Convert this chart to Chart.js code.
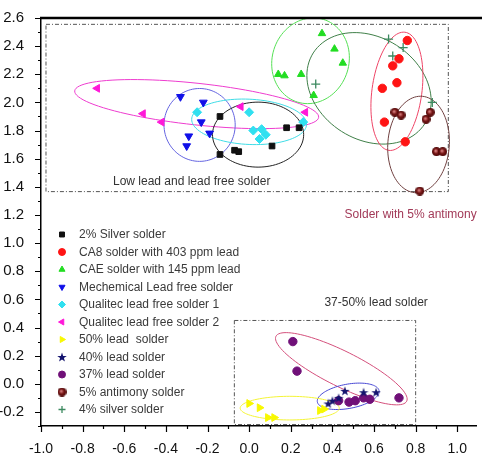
<!DOCTYPE html>
<html>
<head>
<meta charset="utf-8">
<script src="https://cdn.jsdelivr.net/npm/chart.js@4.4.1/dist/chart.umd.min.js"></script>
<style>
  html, body { margin: 0; padding: 0; background: #fff; }
  canvas { display: block; }
</style>
</head>
<body>
<canvas id="chart" width="482" height="458"></canvas>
<script>
// values, [x, y]
const silver2 = [[-0.14, 1.90], [-0.14, 1.63], [-0.07, 1.66], [-0.05, 1.65], [0.11, 1.69], [0.18, 1.82], [0.24, 1.82]];
const ca8 = [[0.76, 2.44], [0.72, 2.31], [0.69, 2.26], [0.64, 2.10], [0.71, 2.14], [0.65, 1.86], [0.75, 1.72]];
const cae = [[0.35, 2.49], [0.41, 2.38], [0.45, 2.28], [0.14, 2.20], [0.17, 2.19], [0.25, 2.20], [0.31, 2.05]];
const mechemical = [[-0.33, 2.04], [-0.22, 2.00], [-0.23, 1.86], [-0.19, 1.78], [-0.29, 1.76], [-0.30, 1.69]];
const qualitec1 = [[-0.25, 1.93], [0.0, 1.93], [0.02, 1.80], [0.06, 1.81], [0.05, 1.74], [0.08, 1.77], [0.26, 1.86]];
const qualitec2 = [[-0.73, 2.10], [-0.51, 1.92], [-0.42, 1.86], [-0.04, 1.97], [0.27, 1.93]];
const lead50 = [[0.00, -0.14], [0.05, -0.17], [0.09, -0.24], [0.12, -0.24], [0.34, -0.19], [0.36, -0.18]];
const lead40 = [[0.46, -0.05], [0.43, -0.10], [0.55, -0.06], [0.61, -0.06], [0.40, -0.12], [0.38, -0.14]];
const lead37 = [[0.21, 0.30], [0.23, 0.09], [0.72, -0.10], [0.43, -0.12], [0.48, -0.13], [0.51, -0.12], [0.55, -0.10], [0.58, -0.11]];
const antimony5 = [[0.70, 1.93], [0.73, 1.91], [0.87, 1.93], [0.85, 1.88], [0.90, 1.65], [0.93, 1.65], [0.82, 1.37]];
const silver4 = [[0.32, 2.13], [0.67, 2.45], [0.69, 2.33], [0.74, 2.39], [0.88, 2.00]];

const seriesNames = [
    '2% Silver solder',
    'CA8 solder with 403 ppm lead',
    'CAE solder with 145 ppm lead',
    'Mechemical Lead free solder',
    'Qualitec lead free solder 1',
    'Qualitec lead free solder 2',
    '50% lead  solder',
    '40% lead solder',
    '37% lead solder',
    '5% antimony solder',
    '4% silver solder',
];

const xRange = [-1.0, 1.09];
const yRange = [-0.3, 2.6];

// grouping ellipses: centre plus two half-axis vectors, data units
const ellipses = [
    { cx: -0.252, cy: 1.988, ax: 0.586, ay: -0.094, bx: -0.011, by: -0.147, color: '#ee3ccf' },
    { cx: -0.238, cy: 1.840, ax: 0.171, ay: 0, bx: 0, by: 0.259, color: '#6464e0' },
    { cx: 0.0, cy: 1.862, ax: 0.276, ay: -0.017, bx: 0, by: 0.161, color: '#3fdce6' },
    { cx: 0.043, cy: 1.771, ax: 0.219, ay: 0, bx: 0, by: 0.231, color: '#222222' },
    { cx: 0.295, cy: 2.296, ax: 0.062, ay: 0.294, bx: 0.176, by: -0.080, color: '#55e055' },
    { cx: 0.576, cy: 2.100, ax: 0.276, ay: -0.231, bx: -0.114, by: -0.322, color: '#3f7f48' },
    { cx: 0.710, cy: 2.079, ax: 0.038, ay: 0.420, bx: 0.119, by: -0.021, color: '#ee4466' },
    { cx: 0.814, cy: 1.701, ax: 0.010, ay: 0.343, bx: 0.148, by: 0, color: '#704040' },
    { cx: 0.443, cy: 0.107, ax: 0.314, ay: -0.231, bx: -0.038, by: -0.112, color: '#d4507c' },
    { cx: 0.476, cy: -0.089, ax: 0.148, ay: 0.042, bx: 0.014, by: -0.084, color: '#4848d4' },
    { cx: 0.195, cy: -0.173, ax: 0.238, ay: 0, bx: 0, by: 0.084, color: '#f4f436' },
];

const boxes = [
    { x0: -0.976, x1: 0.957, y0: 1.366, y1: 2.555 },
    { x0: -0.071, x1: 0.80, y0: -0.29, y1: 0.45 },
];

const notes = [
    { text: 'Low lead and lead free solder', x: -0.276, y: 1.436, color: '#333333' },
    { text: 'Solder with 5% antimony', x: 0.776, y: 1.205, color: '#a23a58' },
    { text: '37-50% lead solder', x: 0.61, y: 0.576, color: '#333333' },
];

function makeStar(color, size) {
    const c = document.createElement('canvas');
    c.width = size;
    c.height = size;
    const g = c.getContext('2d');
    g.fillStyle = color;
    g.beginPath();
    for (let i = 0; i < 10; i++) {
        const r = i % 2 ? size * 0.2 : size * 0.5;
        const a = -Math.PI / 2 + i * Math.PI / 5;
        const px = size / 2 + r * Math.cos(a);
        const py = size / 2 + 0.5 + r * Math.sin(a);
        if (i === 0) g.moveTo(px, py); else g.lineTo(px, py);
    }
    g.closePath();
    g.fill();
    return c;
}

function makeBall(size) {
    const c = document.createElement('canvas');
    c.width = size;
    c.height = size;
    const g = c.getContext('2d');
    const grad = g.createRadialGradient(size * 0.4, size * 0.4, 0.5, size / 2, size / 2, size / 2);
    grad.addColorStop(0, '#d88080');
    grad.addColorStop(0.45, '#7a1818');
    grad.addColorStop(1, '#4a0606');
    g.fillStyle = grad;
    g.beginPath();
    g.arc(size / 2, size / 2, size / 2, 0, Math.PI * 2);
    g.fill();
    return c;
}

const starImg = makeStar('#14146e', 10);
const ballImg = makeBall(9);

const styles = [
    { color: '#111111', pointStyle: 'rect', rotation: 0, radius: 4 },
    { color: '#ff1414', pointStyle: 'circle', rotation: 0, radius: 4.2 },
    { color: '#22dd22', pointStyle: 'triangle', rotation: 0, radius: 4.3 },
    { color: '#1010e8', pointStyle: 'triangle', rotation: 180, radius: 4.5 },
    { color: '#30e0f0', pointStyle: 'rectRot', rotation: 0, radius: 4.5 },
    { color: '#ff18d8', pointStyle: 'triangle', rotation: 270, radius: 4.5 },
    { color: '#f8f800', pointStyle: 'triangle', rotation: 90, radius: 4.5 },
    { color: '#14146e', pointStyle: starImg, rotation: 0, radius: 5 },
    { color: '#701078', pointStyle: 'circle', rotation: 0, radius: 4.2 },
    { color: '#6a1010', pointStyle: ballImg, rotation: 0, radius: 4.5 },
    { color: '#3d8a60', pointStyle: 'cross', rotation: 0, radius: 4.5 },
];

const series = [silver2, ca8, cae, mechemical, qualitec1, qualitec2, lead50, lead40, lead37, antimony5, silver4];

const datasets = series.map((pts, i) => ({
    label: seriesNames[i],
    data: pts.map(([x, y]) => ({ x, y })),
    backgroundColor: styles[i].color,
    borderColor: styles[i].color,
    borderWidth: styles[i].pointStyle === 'cross' ? 1.3 : 1,
    pointStyle: styles[i].pointStyle,
    pointRotation: styles[i].rotation,
    pointRadius: styles[i].radius,
    showLine: false,
}));

function tickLabel(v) {
    const k = Math.round(v * 10);
    if (Math.abs(v * 10 - k) > 1e-6 || k % 2 !== 0) return '';
    return (k / 10).toFixed(1);
}

const overlayPlugin = {
    id: 'overlay',
    beforeDatasetsDraw(chart) {
        const { ctx, chartArea, scales: { x, y } } = chart;
        ctx.save();

        // dash-dot group frames
        ctx.strokeStyle = '#555555';
        ctx.lineWidth = 1;
        ctx.setLineDash([4, 2, 1, 2]);
        boxes.forEach(b => {
            const l = x.getPixelForValue(b.x0), r = x.getPixelForValue(b.x1);
            const t = y.getPixelForValue(b.y1), btm = y.getPixelForValue(b.y0);
            ctx.strokeRect(l, t, r - l, btm - t);
        });
        ctx.setLineDash([]);

        // ellipses
        ctx.lineWidth = 1;
        ellipses.forEach(e => {
            ctx.strokeStyle = e.color;
            ctx.beginPath();
            for (let s = 0; s <= 96; s++) {
                const t = s / 96 * Math.PI * 2;
                const vx = e.cx + e.ax * Math.cos(t) + e.bx * Math.sin(t);
                const vy = e.cy + e.ay * Math.cos(t) + e.by * Math.sin(t);
                const px = x.getPixelForValue(vx), py = y.getPixelForValue(vy);
                if (s === 0) ctx.moveTo(px, py); else ctx.lineTo(px, py);
            }
            ctx.stroke();
        });

        // notes
        ctx.font = '12px "Liberation Sans", Arial, sans-serif';
        ctx.textAlign = 'center';
        ctx.textBaseline = 'middle';
        notes.forEach(n => {
            ctx.fillStyle = n.color;
            ctx.fillText(n.text, x.getPixelForValue(n.x), y.getPixelForValue(n.y));
        });

        // axis tick marks, majors every 0.2 and minors between
        ctx.strokeStyle = '#000';
        ctx.lineWidth = 1.2;
        ctx.beginPath();
        for (let k = -10; k <= 10; k++) {
            const px = Math.round(x.getPixelForValue(k / 10)) + 0.5;
            const len = k % 2 === 0 ? 6 : 3;
            ctx.moveTo(px, chartArea.bottom);
            ctx.lineTo(px, chartArea.bottom + len);
        }
        for (let k = -3; k <= 26; k++) {
            const py = Math.round(y.getPixelForValue(k / 10)) + 0.5;
            const len = k % 2 === 0 ? 6 : 3;
            ctx.moveTo(chartArea.left, py);
            ctx.lineTo(chartArea.left - len, py);
        }
        ctx.stroke();

        // heavy top frame line
        ctx.lineWidth = 2.5;
        ctx.beginPath();
        ctx.moveTo(chartArea.left - 1, chartArea.top);
        ctx.lineTo(chart.width, chartArea.top);
        ctx.stroke();
        ctx.restore();
    },
    afterDatasetsDraw(chart) {
        const { ctx, chartArea } = chart;
        ctx.save();
        ctx.font = '12px "Liberation Sans", Arial, sans-serif';
        ctx.textAlign = 'left';
        ctx.textBaseline = 'middle';
        chart.data.datasets.forEach((ds, i) => {
            const ly = chartArea.top + 216.5 + i * 17.5;
            const mx = chartArea.left + 21;
            ctx.fillStyle = ds.backgroundColor;
            ctx.strokeStyle = ds.borderColor;
            ctx.lineWidth = ds.borderWidth;
            Chart.helpers.drawPoint(ctx, {
                pointStyle: ds.pointStyle,
                rotation: ds.pointRotation,
                radius: 3.5,
                borderWidth: ds.borderWidth,
            }, mx, ly);
            ctx.fillStyle = '#3a3a3a';
            ctx.fillText(ds.label, chartArea.left + 38, ly + 0.5);
        });
        ctx.restore();
    },
};

new Chart(document.getElementById('chart'), {
    type: 'scatter',
    data: { datasets: datasets },
    options: {
        responsive: false,
        animation: false,
        layout: { padding: { top: 11, right: 1, left: 0, bottom: 0 } },
        plugins: {
            legend: { display: false },
            tooltip: { enabled: false },
        },
        scales: {
            x: {
                type: 'linear',
                min: xRange[0],
                max: xRange[1],
                grid: { display: false },
                border: { display: true, color: '#000', width: 1.5 },
                ticks: {
                    stepSize: 0.1,
                    includeBounds: false,
                    autoSkip: false,
                    maxRotation: 0,
                    padding: 7,
                    color: '#111',
                    font: { family: '"Liberation Sans", Arial, sans-serif', size: 14 },
                    callback: tickLabel,
                },
                afterFit(scale) { scale.height = 32; },
            },
            y: {
                type: 'linear',
                min: yRange[0],
                max: yRange[1],
                grid: { display: false },
                border: { display: true, color: '#000', width: 1.5 },
                ticks: {
                    stepSize: 0.1,
                    includeBounds: false,
                    autoSkip: false,
                    padding: 9,
                    color: '#111',
                    font: { family: '"Liberation Sans", Arial, sans-serif', size: 15 },
                    callback: tickLabel,
                },
                afterFit(scale) { scale.width = 41; },
            },
        },
    },
    plugins: [overlayPlugin],
});
</script>
</body>
</html>
